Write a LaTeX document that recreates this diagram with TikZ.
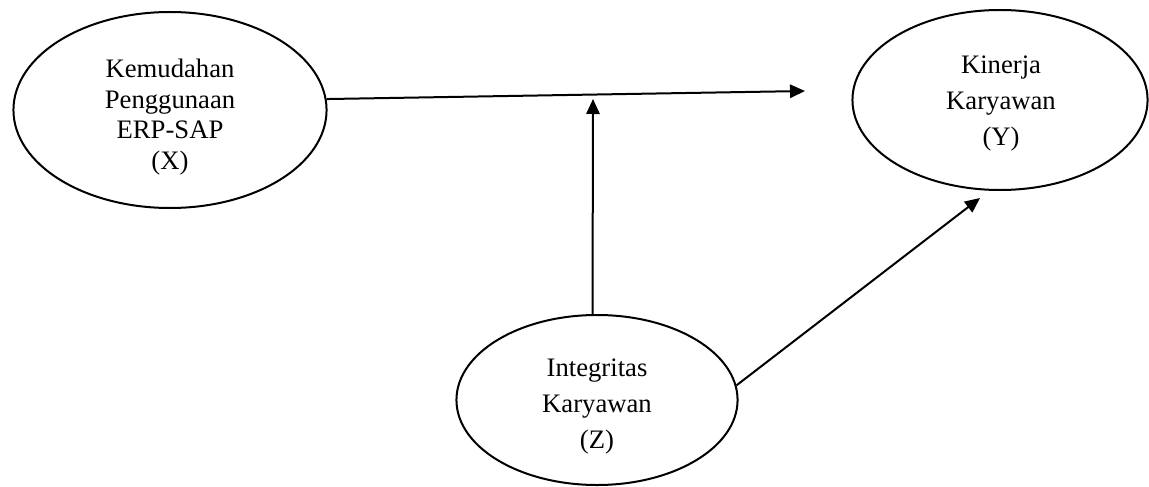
\documentclass[tikz,border=0pt]{standalone}
\usepackage{fontspec}
\setmainfont{Liberation Serif}
\usetikzlibrary{shapes,arrows.meta}
\tikzstyle{construct}=[ellipse,draw=black,line width=0.9pt,inner sep=0pt]
\tikzstyle{tightlines}=[inner sep=0pt,align=center,font=\fontsize{12}{13.7}\selectfont]
\tikzstyle{looselines}=[inner sep=0pt,align=center,font=\fontsize{12}{16.2}\selectfont]
\tikzstyle{effect}=[-{Triangle[length=6.75pt,width=6pt]},line width=0.9pt]
\pgfdeclarelayer{edgelayer}
\pgfdeclarelayer{nodelayer}
\pgfsetlayers{edgelayer,nodelayer,main}

\begin{document}
\begin{tikzpicture}[x=0.45pt,y=-0.45pt]
	\useasboundingbox (0,0) rectangle (1149,486);
	\begin{pgfonlayer}{nodelayer}
		\node [style=construct, minimum width=140.9pt, minimum height=88.2pt] (X) at (170, 110) {};
		\node [style=construct, minimum width=132.8pt, minimum height=81pt] (Y) at (1000, 100) {};
		\node [style=construct, minimum width=126.5pt, minimum height=76.5pt] (Z) at (597, 400) {};

		\node [style=tightlines] (Xtext) at (170, 117) {Kemudahan\\Penggunaan\\ERP-SAP\\(X)};
		\node [style=looselines] (Ytext) at (1001, 104) {Kinerja\\Karyawan\\ (Y)};
		\node [style=looselines] (Ztext) at (597, 407) {Integritas\\Karyawan\\(Z)};

		\coordinate (XYtip) at (805, 91);
		\coordinate (Ztip) at (593, 99);
		\coordinate (Ytip) at (980, 198);
	\end{pgfonlayer}
	\begin{pgfonlayer}{edgelayer}
		\draw [style=effect] (X.4) to (XYtip);
		\draw [style=effect] (Z.93) to (Ztip);
		\draw [style=effect] (Z.6) to (Ytip);
	\end{pgfonlayer}
\end{tikzpicture}
\end{document}
